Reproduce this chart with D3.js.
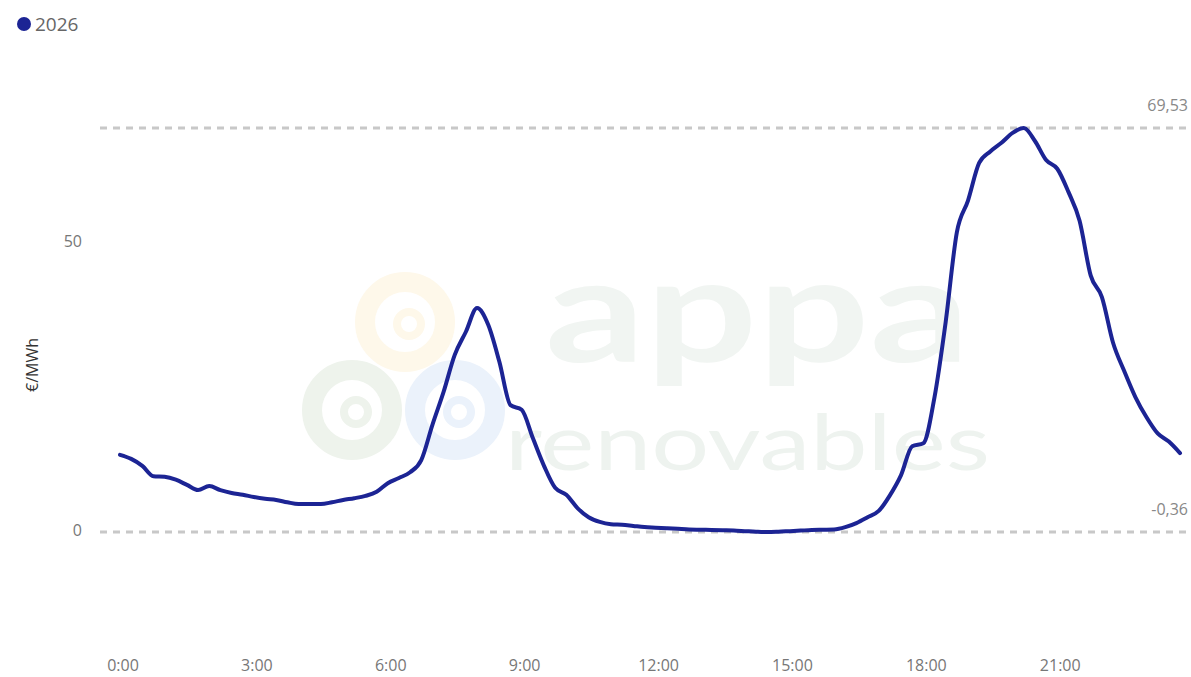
<!DOCTYPE html>
<html>
<head>
<meta charset="utf-8">
<script src="https://cdn.jsdelivr.net/npm/d3@7"></script>
<style>
  body { margin: 0; background: #fff; }
  #chart { width: 1191px; height: 677px; }
  text { font-family: "Open Sans", "Noto Sans", sans-serif; }
</style>
</head>
<body>
<div id="chart"></div>
<script>

var seriesName = "2026";

// quarter-hour prices, €/MWh (00:00 .. 23:45)
var prices = [
    13.0, 12.3, 11.1, 9.3, 9.2, 8.7, 7.8, 6.9,
    7.6, 6.9, 6.4, 6.1, 5.7, 5.4, 5.2, 4.8,
    4.5, 4.5, 4.5, 4.8, 5.2, 5.5, 5.9, 6.6,
    8.1, 9.0, 10.0, 12.1, 18.2, 23.9, 30.3, 34.3,
    38.4, 35.5, 29.1, 21.6, 20.8, 15.9, 11.1, 7.3,
    6.1, 3.8, 2.2, 1.4, 1.0, 0.9, 0.7, 0.5,
    0.4, 0.3, 0.2, 0.1, 0.05, 0.0, -0.05, -0.1,
    -0.2, -0.3, -0.36, -0.3, -0.2, -0.1, 0.0, 0.05,
    0.1, 0.5, 1.2, 2.2, 3.3, 6.0, 9.5, 14.5,
    15.0, 23.0, 36.0, 51.5, 57.0, 63.5, 65.5, 67.0,
    68.7, 69.53, 67.3, 64.0, 62.5, 58.5, 53.5, 44.0,
    40.3, 32.4, 27.5, 23.0, 19.5, 16.7, 15.3, 13.3
];

var xTickHours = [0, 3, 6, 9, 12, 15, 18, 21];
var xTickLabels = ["0:00", "3:00", "6:00", "9:00", "12:00", "15:00", "18:00", "21:00"];
var yTicks = [0, 50];

var hours = prices.map(function(d, i) { return i / 4; });

var width = 1191, height = 677;
var lineColor = "#1c2494";

var svg = d3.select("#chart").append("svg")
    .attr("width", width)
    .attr("height", height);

var x = d3.scaleLinear()
    .domain([0, 23.75])
    .range([120, 1180]);

var y = d3.scaleLinear()
    .domain([0, 50])
    .range([530, 241]);

// watermark (appa renovables), very faint
var wm = svg.append("g").attr("id", "watermark");
var swirls = [
    { cx: 405, cy: 322, col: "#fef8ea" },
    { cx: 352, cy: 410, col: "#eef3ec" },
    { cx: 455, cy: 410, col: "#ebf2fb" }
];
swirls.forEach(function(s) {
    wm.append("circle").attr("cx", s.cx).attr("cy", s.cy).attr("r", 40)
        .attr("fill", "none").attr("stroke", s.col).attr("stroke-width", 20);
    wm.append("circle").attr("cx", s.cx + 4).attr("cy", s.cy + 2).attr("r", 12)
        .attr("fill", "none").attr("stroke", s.col).attr("stroke-width", 8);
});
wm.append("text")
    .attr("x", 545).attr("y", 362)
    .attr("textLength", 425).attr("lengthAdjust", "spacingAndGlyphs")
    .style("font-family", "Lato, sans-serif")
    .style("font-size", "145px")
    .style("font-weight", "bold")
    .attr("fill", "#f1f5f2")
    .text("appa");
wm.append("text")
    .attr("x", 505).attr("y", 470)
    .attr("textLength", 485).attr("lengthAdjust", "spacingAndGlyphs")
    .style("font-family", "Lato, sans-serif")
    .style("font-size", "78px")
    .attr("fill", "#eef3ef")
    .text("renovables");

// legend
svg.append("circle")
    .attr("cx", 24).attr("cy", 24).attr("r", 7)
    .attr("fill", lineColor);
svg.append("text")
    .attr("x", 35).attr("y", 31)
    .style("font-size", "19px")
    .attr("fill", "#666")
    .text(seriesName);

// y axis title
svg.append("text")
    .attr("transform", "translate(38,365) rotate(-90)")
    .attr("text-anchor", "middle")
    .style("font-size", "16px")
    .attr("fill", "#333")
    .text("€/MWh");

// y tick labels
svg.selectAll(".ytick")
    .data(yTicks)
    .enter().append("text")
    .attr("class", "ytick")
    .attr("x", 82)
    .attr("y", function(d) { return y(d) + 6; })
    .attr("text-anchor", "end")
    .style("font-size", "16px")
    .attr("fill", "#777")
    .text(function(d) { return d; });

// x tick labels
svg.selectAll(".xtick")
    .data(xTickHours)
    .enter().append("text")
    .attr("class", "xtick")
    .attr("x", function(d) { return x(d) + 3; })
    .attr("y", 671)
    .attr("text-anchor", "middle")
    .style("font-size", "16px")
    .attr("fill", "#777")
    .text(function(d, i) { return xTickLabels[i]; });

// min / max reference lines
var maxV = d3.max(prices);
var minV = d3.min(prices);
var refs = [maxV, minV];
var fmt = function(v) { return d3.format(".2f")(v).replace(".", ",").replace("\u2212", "-"); };

svg.selectAll(".ref")
    .data(refs)
    .enter().append("line")
    .attr("class", "ref")
    .attr("x1", 100).attr("x2", width)
    .attr("y1", function(d) { return y(d); })
    .attr("y2", function(d) { return y(d); })
    .attr("stroke", "#c8c8c8")
    .attr("stroke-width", 3)
    .attr("stroke-dasharray", "7,6");

svg.selectAll(".reflabel")
    .data(refs)
    .enter().append("text")
    .attr("class", "reflabel")
    .attr("x", 1188)
    .attr("y", function(d) { return y(d) - 17; })
    .attr("text-anchor", "end")
    .style("font-size", "16px")
    .attr("fill", "#888")
    .text(fmt);

// price line
var line = d3.line()
    .x(function(d, i) { return x(hours[i]); })
    .y(function(d) { return y(d); })
    .curve(d3.curveMonotoneX);

svg.append("path")
    .datum(prices)
    .attr("d", line)
    .attr("fill", "none")
    .attr("stroke", lineColor)
    .attr("stroke-width", 4)
    .attr("stroke-linejoin", "round")
    .attr("stroke-linecap", "round");

</script>
</body>
</html>
